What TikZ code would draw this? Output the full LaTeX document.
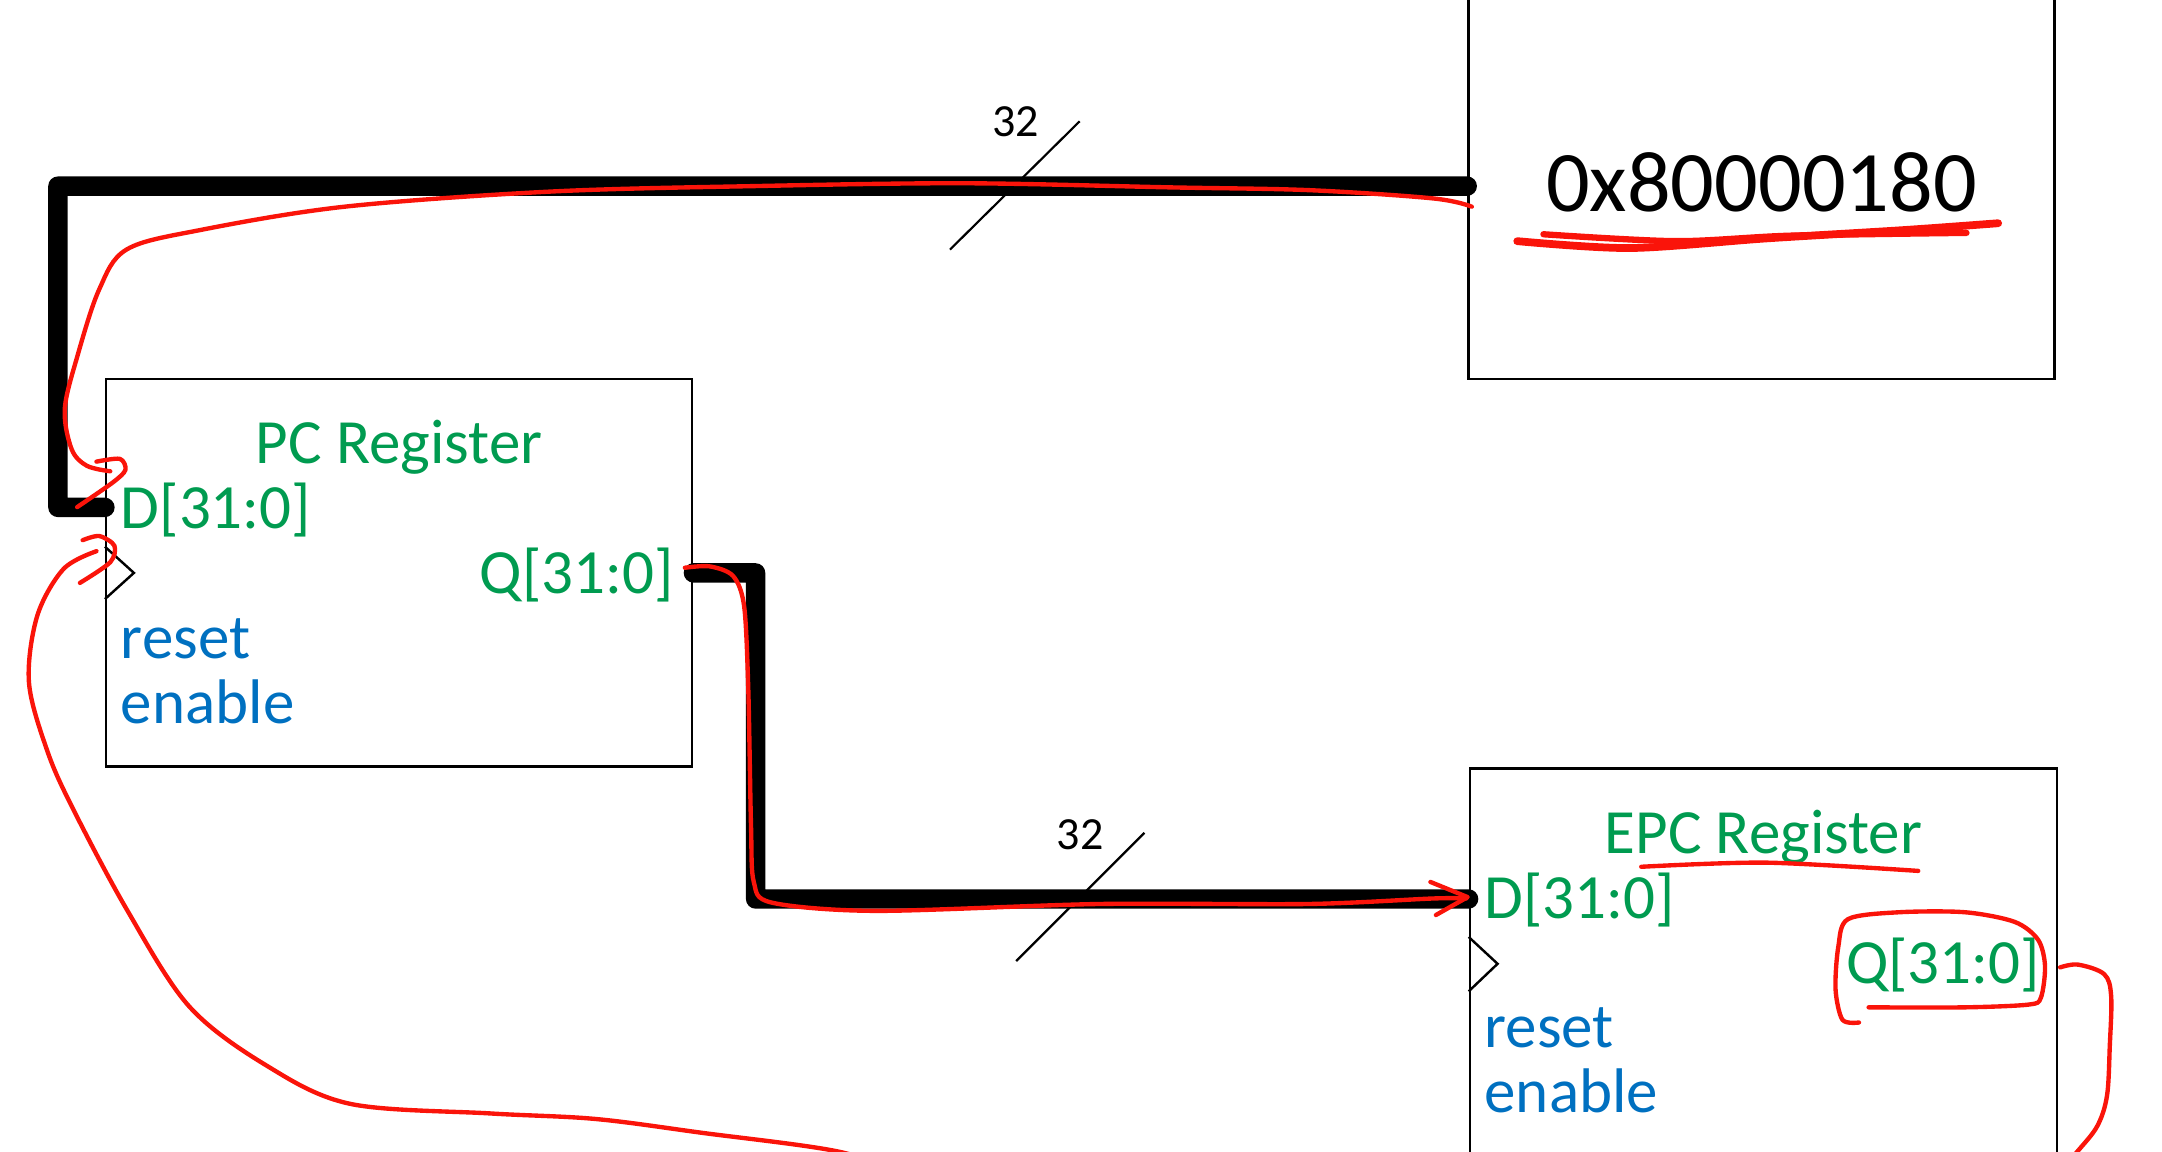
\documentclass[tikz,border=0pt]{standalone}
\usepackage{fontspec}
\setmainfont{Carlito}
\definecolor{siggreen}{RGB}{0,155,80}
\definecolor{ctlblue}{RGB}{0,112,192}
\definecolor{pen}{RGB}{250,20,10}
\tikzset{
  regbox/.style={draw, line width=0.5pt, minimum width=4.25cm, inner sep=0},
  bus/.style={line width=4pt, line cap=round, line join=round},
  slash/.style={line width=0.45pt},
  pin/.style={inner sep=0, text=siggreen, font=\fontsize{13}{15}\selectfont},
  ctl/.style={inner sep=0, text=ctlblue, font=\fontsize{13}{15}\selectfont},
  buswidth/.style={inner sep=0, font=\fontsize{9.5}{11}\selectfont},
  ink/.style={pen, line width=0.9pt, line cap=round, line join=round},
}
\begin{document}
\begin{tikzpicture}
    \useasboundingbox (0,0) rectangle (15.68,-8.35);

    \node[regbox, minimum height=2.85cm] (const) at (12.775,-1.325) {};
    \node[regbox, minimum height=2.81cm] (pc) at (2.895,-4.155) {};
    \node[regbox, minimum width=4.26cm, minimum height=2.9cm] (epc) at (12.79,-7.025) {};

    \node[anchor=base, inner sep=0, font=\fontsize{17.8}{20}\selectfont] (hex) at (12.775,-1.535) {0x80000180};

    \node[pin, anchor=base] (pcname) at (2.895,-3.365) {PC Register};
    \node[pin, anchor=base west] (pcd) at (0.87,-3.835) {D[31:0]};
    \node[pin, anchor=base east] (pcq) at (4.89,-4.305) {Q[31:0]};
    \node[ctl, anchor=base west] (pcrst) at (0.87,-4.775) {reset};
    \node[ctl, anchor=base west] (pcen) at (0.87,-5.245) {enable};

    \node[pin, anchor=base] (epcname) at (12.79,-6.19) {EPC Register};
    \node[pin, anchor=base west] (epcd) at (10.76,-6.66) {D[31:0]};
    \node[pin, anchor=base east] (epcq) at (14.80,-7.13) {Q[31:0]};
    \node[ctl, anchor=base west] (epcrst) at (10.76,-7.60) {reset};
    \node[ctl, anchor=base west] (epcen) at (10.76,-8.07) {enable};

    \draw[line width=0.5pt] ([yshift=0.19cm]pc.west) -- ++(0.21,-0.19) -- ++(-0.21,-0.19);
    \draw[line width=0.5pt] ([yshift=0.23cm]epc.west) -- ++(0.21,-0.195) -- ++(-0.21,-0.2);

    \coordinate (kout) at ([yshift=-0.025cm]const.west);
    \coordinate (pcin) at ([yshift=0.475cm]pc.west);
    \coordinate (pcout) at (pc.east);
    \coordinate (epcin) at ([yshift=0.505cm]epc.west);

    \draw[bus] (kout) -| (0.42,-3.68) -- (pcin);
    \draw[bus] (pcout) -| (5.48,-6.52) -- (epcin);

    \draw[slash] (6.89,-1.81) -- (7.83,-0.88);
    \node[buswidth, anchor=base] (w1) at (7.365,-0.993) {32};
    \draw[slash] (7.37,-6.97) -- (8.30,-6.04);
    \node[buswidth, anchor=base] (w2) at (7.835,-6.16) {32};

    \begin{scope}[x=0.01cm, y=-0.01cm]
        \draw[ink] plot[smooth, tension=0.55] coordinates {(1068,150) (1040,144) (950,138) (850,136) (700,133) (550,135) (400,139) (250,150) (145,167) (92,181) (72,210) (56,259) (47,297) (52,326) (63,338) (80,342)};
        \draw[ink] plot[smooth] coordinates {(70,335) (87,333) (91,341) (82,350) (56,368)};

        \draw[ink] plot[smooth, tension=0.5] coordinates {(497,412) (515,411) (532,418) (540,440) (543,500) (545,600) (547,640) (560,655) (636,661) (798,656) (950,656) (1040,652) (1064,652)};
        \draw[ink] (1038,640) -- (1065,651) -- (1042,664);

        \draw[ink] plot[smooth, tension=0.55] coordinates {(1495,702) (1508,700) (1527,707) (1532,723) (1531,759) (1529,795) (1522,817) (1508,835) (1490,855)};
        \draw[ink] plot[smooth, tension=0.55] coordinates {(660,855) (610,836) (509,822) (432,812) (356,808) (254,801) (193,773) (137,730) (92,660) (52,585) (34,544) (21,495) (27,447) (46,413) (70,400)};
        \draw[ink] plot[smooth] coordinates {(60,392) (72,389) (83,396) (80,408) (58,423)};

        \draw[ink] plot[smooth] coordinates {(1349,742) (1337,740) (1332,718) (1334,687) (1341,667) (1378,662) (1426,662) (1462,669) (1479,682) (1484,701) (1481,724) (1472,729) (1426,731) (1356,731)};
        \draw[ink] plot[smooth] coordinates {(1191,629) (1282,626) (1392,632)};
        \draw[ink, line width=1.6pt] plot[smooth] coordinates {(1101,175) (1183,180) (1282,173) (1381,167) (1450,162)};
        \draw[ink, line width=1.3pt] plot[smooth] coordinates {(1120,170) (1216,175) (1300,171) (1427,169)};
    \end{scope}
\end{tikzpicture}
\end{document}
